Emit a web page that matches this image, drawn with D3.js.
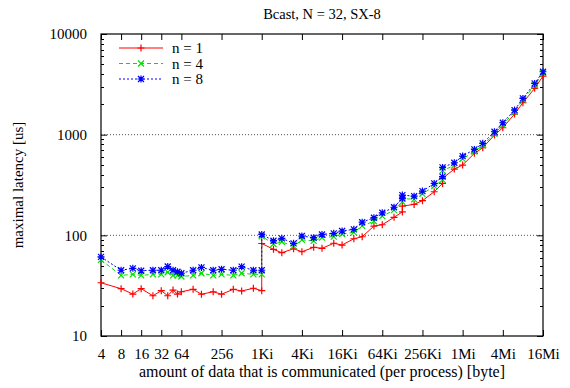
<!DOCTYPE html>
<html>
<head>
<meta charset="utf-8">
<script src="https://cdn.jsdelivr.net/npm/d3@7"></script>
<style>
  html, body { margin: 0; padding: 0; background: #fff; }
  svg { display: block; }
  text { font-family: "Liberation Serif", "Times New Roman", serif; fill: #000; }
</style>
</head>
<body>
<svg id="chart" width="570" height="388"></svg>
<script>
// ---- data ----
const sizes = [4,8,12,16,24,32,40,48,56,64,
  96,128,192,256,384,512,768,1024,1024,
  1536,2048,3072,4096,6144,8192,12288,16384,24576,32768,
  49152,65536,98304,131072,131072,
  196608,262144,393216,524288,524288,
  786432,1048576,1572864,2097152,3145728,
  4194304,6291456,8388608,12582912,16777216];

const n1 = [33.8,29.5,26.1,29.5,25.1,28.2,25.1,28.6,26.1,27.5,
  29.1,26.0,27.5,26.0,29.1,28.0,29.8,28.2,83,
  72.6,67.2,73.6,68.7,76,74.3,83.4,80.1,92.5,96.8,
  123.7,127.4,151,171,195,
  203,221,271,328,368,
  455,499,652,741,991,
  1172,1603,2077,2885,3819];

const n4 = [57,40,41,40,41,41,43,40,40,39,
  40,42,40,41,40,42,41,41,98,
  82,86,78,90,88,95,97,103,107,124,
  138,155,178,215,232,
  228,258,308,355,440,
  495,575,680,780,1020,
  1250,1690,2200,3100,4080];

const n8 = [61,45,47,44.5,45,45,49,45,43.5,42,
  45,48,45,46,45,48.8,45,45,102,
  88.4,93.4,83.3,98.4,94.7,102,104.7,110.4,114.7,135,
  149.6,167.6,190,233,251,
  245,275,328,383,473,
  526,613,714,820,1069,
  1313,1754,2291,3229,4217];

const seriesNames = ["n = 1", "n = 4", "n = 8"];
const xTickValues = [4,8,16,32,64,256,1024,4096,16384,65536,262144,1048576,4194304,16777216];
const xTickLabels = ["4","8","16","32","64","256","1Ki","4Ki","16Ki","64Ki","256Ki","1Mi","4Mi","16Mi"];
const yTickValues = [10,100,1000,10000];
const yTickLabels = ["10","100","1000","10000"];
const yGridValues = [100,1000];

const title = "Bcast, N = 32, SX-8";
const xLabel = "amount of data that is communicated (per process) [byte]";
const yLabel = "maximal latency [us]";

// ---- layout ----
const L = 101, R = 543, T = 34, B = 336;
const svg = d3.select("#chart");

const x = d3.scaleLog().base(2).domain([4, 16777216]).range([L, R]);
const y = d3.scaleLog().base(10).domain([10, 10000]).range([B, T]);

// grid
svg.append("g").selectAll("line").data(yGridValues).join("line")
  .attr("x1", L).attr("x2", R)
  .attr("y1", d => y(d)).attr("y2", d => y(d))
  .attr("stroke", "#555").attr("stroke-width", 1)
  .attr("stroke-dasharray", "1,2");

// minor y ticks
const minor = [];
for (let e = 10; e < 10000; e *= 10) for (let k = 2; k <= 9; k++) minor.push(e * k);
const minorG = svg.append("g").attr("stroke", "#000").attr("stroke-width", 1);
minorG.selectAll("line.l").data(minor).join("line").attr("class","l")
  .attr("x1", L).attr("x2", L + 3)
  .attr("y1", d => Math.round(y(d)) + 0.5).attr("y2", d => Math.round(y(d)) + 0.5);
minorG.selectAll("line.r").data(minor).join("line").attr("class","r")
  .attr("x1", R).attr("x2", R - 3)
  .attr("y1", d => Math.round(y(d)) + 0.5).attr("y2", d => Math.round(y(d)) + 0.5);

// axes
const fmtX = d => xTickLabels[xTickValues.indexOf(d)];
const fmtY = d => yTickLabels[yTickValues.indexOf(d)];

const axB = svg.append("g").attr("transform", `translate(0,${B})`)
  .call(d3.axisBottom(x).tickValues(xTickValues).tickFormat(fmtX).tickSize(-6).tickPadding(12));
const axT = svg.append("g").attr("transform", `translate(0,${T})`)
  .call(d3.axisTop(x).tickValues(xTickValues).tickFormat("").tickSize(-6));
const axL = svg.append("g").attr("transform", `translate(${L},0)`)
  .call(d3.axisLeft(y).tickValues(yTickValues).tickFormat(fmtY).tickSize(-6).tickPadding(14));
const axR = svg.append("g").attr("transform", `translate(${R},0)`)
  .call(d3.axisRight(y).tickValues(yTickValues).tickFormat("").tickSize(-6));

[axB, axT, axL, axR].forEach(g => {
  g.attr("font-family", null);
  g.select(".domain").remove();
  g.selectAll("line").attr("stroke", "#000");
  g.selectAll("text").style("font-family", "'Liberation Serif', serif").style("font-size", "15px").attr("fill", "#000");
});

// frame
svg.append("rect").attr("x", L).attr("y", T).attr("width", R - L).attr("height", B - T)
  .attr("fill", "none").attr("stroke", "#000").attr("stroke-width", 1.2);

// series
const markers = {
  plus: "M-3.5,0H3.5M0,-3.5V3.5",
  cross: "M-3,-3L3,3M-3,3L3,-3",
  star: "M-3.5,0H3.5M0,-3.5V3.5M-3,-3L3,3M-3,3L3,-3"
};
const series = [
  { name: seriesNames[0], values: n1, color: "#ff0000", dash: null, marker: markers.plus },
  { name: seriesNames[1], values: n4, color: "#00e000", dash: "4,3", marker: markers.cross },
  { name: seriesNames[2], values: n8, color: "#0000ff", dash: "2,2", marker: markers.star }
];

const line = d3.line().x(d => x(d[0])).y(d => y(d[1]));
series.forEach(s => {
  const pts = sizes.map((v, i) => [v, s.values[i]]);
  const g = svg.append("g");
  g.append("path").datum(pts).attr("d", line)
    .attr("fill", "none").attr("stroke", s.color).attr("stroke-width", 1)
    .attr("stroke-dasharray", s.dash);
  g.selectAll("path.m").data(pts).join("path").attr("class", "m")
    .attr("d", s.marker)
    .attr("transform", d => `translate(${x(d[0])},${y(d[1])})`)
    .attr("fill", "none").attr("stroke", s.color).attr("stroke-width", 1.2);
});

// legend
const lg = svg.append("g");
series.forEach((s, i) => {
  const ly = 48 + i * 15.5;
  lg.append("line").attr("x1", 119).attr("x2", 163).attr("y1", ly).attr("y2", ly)
    .attr("stroke", s.color).attr("stroke-width", 1).attr("stroke-dasharray", s.dash);
  lg.append("path").attr("d", s.marker).attr("transform", `translate(141,${ly})`)
    .attr("fill", "none").attr("stroke", s.color).attr("stroke-width", 1.2);
  lg.append("text").attr("x", 172).attr("y", ly).attr("dy", "0.35em")
    .style("font-size", "15px").text(s.name);
});

// titles
svg.append("text").attr("x", (L + R) / 2).attr("y", 19).attr("text-anchor", "middle")
  .style("font-size", "14.5px").text(title);
svg.append("text").attr("x", (L + R) / 2).attr("y", 377).attr("text-anchor", "middle")
  .style("font-size", "16px").text(xLabel);
svg.append("text").attr("transform", `translate(23,${(T + B) / 2}) rotate(-90)`)
  .attr("text-anchor", "middle").style("font-size", "15px").text(yLabel);
</script>
</body>
</html>
